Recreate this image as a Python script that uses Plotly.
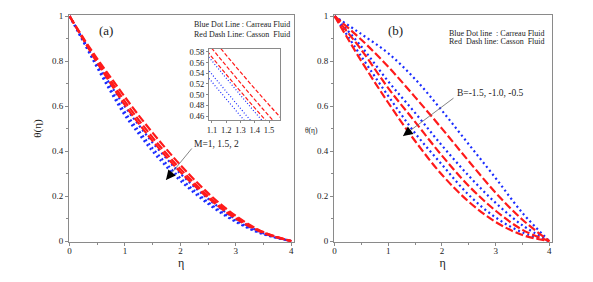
import plotly.graph_objects as go

W, H = 593, 282
OFF = 8  # page body margin
FW, FH = W - OFF, H - OFF

# ---------------- data: panel (a) ----------------
eta_a = [0, 0.25, 0.5, 0.75, 1.0, 1.25, 1.5, 1.75, 2.0, 2.5, 3.0, 3.5, 4.0]
a_blue1 = [1, 0.885, 0.770, 0.660, 0.558, 0.476, 0.398, 0.330, 0.268, 0.165, 0.085, 0.030, 0]
a_blue2 = [1, 0.888, 0.776, 0.670, 0.572, 0.490, 0.412, 0.343, 0.280, 0.173, 0.090, 0.032, 0]
a_blue3 = [1, 0.893, 0.787, 0.690, 0.597, 0.515, 0.437, 0.367, 0.300, 0.188, 0.098, 0.035, 0]
a_red1 = [1, 0.895, 0.792, 0.697, 0.604, 0.522, 0.445, 0.374, 0.307, 0.192, 0.100, 0.036, 0]
a_red2 = [1, 0.898, 0.800, 0.710, 0.620, 0.538, 0.460, 0.388, 0.320, 0.200, 0.105, 0.038, 0]
a_red3 = [1, 0.902, 0.810, 0.725, 0.640, 0.558, 0.481, 0.408, 0.338, 0.213, 0.112, 0.040, 0]

# ---------------- data: panel (b) ----------------
eta_b = [0, 0.5, 1.0, 1.5, 2.0, 2.5, 3.0, 3.5, 4.0]
b_blue3 = [1, 0.920, 0.835, 0.720, 0.580, 0.430, 0.280, 0.125, 0]
b_red3 = [1, 0.895, 0.775, 0.640, 0.500, 0.355, 0.215, 0.095, 0]
b_blue2 = [1, 0.865, 0.710, 0.570, 0.425, 0.290, 0.170, 0.070, 0]
b_red2 = [1, 0.850, 0.680, 0.530, 0.380, 0.245, 0.135, 0.050, 0]
b_blue1 = [1, 0.820, 0.645, 0.480, 0.340, 0.205, 0.105, 0.038, 0]
b_red1 = [1, 0.800, 0.615, 0.445, 0.295, 0.175, 0.085, 0.027, 0]

x_ticks = [0, 1, 2, 3, 4]
y_ticks = [0, 0.2, 0.4, 0.6, 0.8, 1]
inset_x_ticks = [1.1, 1.2, 1.3, 1.4, 1.5]
inset_y_ticks = [0.46, 0.48, 0.50, 0.52, 0.54, 0.56, 0.58]

BLUE = "#1a2cff"
RED = "#ff1a1a"
SERIF = "Liberation Serif"
AX = "#8a8a8a"


def px(x):
    return (x - OFF) / FW


def py(y):
    return 1 - (y - OFF) / FH


fig = go.Figure()


def add(x, y, color, dash, xa, ya, width=2.2):
    fig.add_trace(go.Scatter(
        x=x, y=y, mode="lines", xaxis=xa, yaxis=ya,
        line=dict(color=color, dash=dash, width=width, shape="spline", smoothing=1.0),
        showlegend=False, hoverinfo="skip"))


DOT = "2px,3px"
DASH = "8px,3px"

for ys, c, d in [(a_blue1, BLUE, DOT), (a_blue2, BLUE, DOT), (a_blue3, BLUE, DOT),
                 (a_red1, RED, DASH), (a_red2, RED, DASH), (a_red3, RED, DASH)]:
    add(eta_a, ys, c, d, "x", "y")

for ys, c, d in [(b_blue1, BLUE, DOT), (b_blue2, BLUE, DOT), (b_blue3, BLUE, DOT),
                 (b_red1, RED, DASH), (b_red2, RED, DASH), (b_red3, RED, DASH)]:
    add(eta_b, ys, c, d, "x2", "y2")

for ys, c, d in [(a_blue1, BLUE, "1px,2px"), (a_blue2, BLUE, "1px,2px"), (a_blue3, BLUE, "1px,2px"),
                 (a_red1, RED, "4px,2px"), (a_red2, RED, "4px,2px"), (a_red3, RED, "4px,2px")]:
    add(eta_a, ys, c, d, "x3", "y3", width=1.2)

tickfont = dict(family=SERIF, size=9, color="#222")
minor_y = dict(dtick=0.1, ticklen=2, ticks="outside", tickcolor=AX)
minor_x = dict(dtick=0.5, ticklen=2, ticks="outside", tickcolor=AX)

common_x = dict(range=[-0.01, 4.04], tickvals=x_ticks, ticks="outside", ticklen=3,
                tickcolor=AX, showline=True, linecolor=AX, linewidth=1, mirror=True,
                showgrid=False, zeroline=False, tickfont=tickfont, minor=minor_x,
                automargin=False, ticklabelstandoff=-3)
common_y = dict(range=[-0.004, 1.005], tickvals=y_ticks, ticktext=["0", "0.2", "0.4", "0.6", "0.8", "1"],
                ticks="outside", ticklen=3, tickcolor=AX, showline=True, linecolor=AX,
                linewidth=1, mirror=True, showgrid=False, zeroline=False,
                tickfont=tickfont, minor=minor_y, automargin=False)
inset_common = dict(ticks="outside", ticklen=2, tickcolor=AX, showline=True, linecolor=AX,
                    mirror=True, showgrid=False, zeroline=False, automargin=False,
                    tickfont=dict(family=SERIF, size=8.5, color="#222"))

fig.update_layout(
    width=FW, height=FH,
    margin=dict(l=0, r=0, t=0, b=0, pad=0, autoexpand=False),
    paper_bgcolor="white", plot_bgcolor="white",
    showlegend=False,
    xaxis=dict(domain=[px(69), px(293.5)], anchor="y",
               title=dict(text="η", font=dict(family=SERIF, size=12, color="#222"), standoff=3),
               **common_x),
    yaxis=dict(domain=[py(242), py(15)], anchor="x",
               title=dict(text="θ(η)", font=dict(family=SERIF, size=11, color="#222"), standoff=8),
               **common_y),
    xaxis2=dict(domain=[px(334), px(551.5)], anchor="y2",
                title=dict(text="η", font=dict(family=SERIF, size=12, color="#222"), standoff=3),
                **common_x),
    yaxis2=dict(domain=[py(242), py(15)], anchor="x2", **common_y),
    xaxis3=dict(domain=[px(209), px(280)], anchor="y3", range=[1.079, 1.577],
                tickvals=inset_x_ticks, ticktext=["1.1", "1.2", "1.3", "1.4", "1.5"],
                **inset_common),
    yaxis3=dict(domain=[py(120), py(49)], anchor="x3", range=[0.4525, 0.5856],
                tickvals=inset_y_ticks, ticktext=["0.46", "0.48", "0.50", "0.52", "0.54", "0.56", "0.58"],
                **inset_common),
)

ann = []


def text(x, y, s, size, anchor="left"):
    ann.append(dict(x=px(x), y=py(y), xref="paper", yref="paper", text=s, showarrow=False,
                    xanchor=anchor, yanchor="middle",
                    font=dict(family=SERIF, size=size, color="#222")))


text(97, 30, "(a)", 13)
text(192, 25, "Blue Dot Line : Carreau Fluid", 8)
text(192, 34, "Red Dash Line: Casson  Fluid", 8)
text(192, 144, "M=1, 1.5, 2", 9.5)

text(386, 30, "(b)", 13)
text(447, 33, "Blue Dot line  : Carreau Fluid", 8)
text(447, 42, "Red  Dash line: Casson  Fluid", 8)
text(455, 93, "B=-1.5, -1.0, -0.5", 9.5)

# right panel y label (small, horizontal)
text(311, 131, "θ(η)", 7.5, anchor="center")


def arrow(x0, y0, x1, y1):
    # gray shaft
    ann.append(dict(x=px(x1), y=py(y1), ax=x0 - x1, ay=y0 - y1, xref="paper", yref="paper",
                    axref="pixel", ayref="pixel", showarrow=True, arrowhead=0,
                    arrowwidth=0.8, arrowcolor="#666", text=""))
    # black head
    dx, dy = x0 - x1, y0 - y1
    L = (dx * dx + dy * dy) ** 0.5
    ann.append(dict(x=px(x1), y=py(y1), ax=dx / L * 7, ay=dy / L * 7, xref="paper", yref="paper",
                    axref="pixel", ayref="pixel", showarrow=True, arrowhead=2,
                    arrowsize=1.2, arrowwidth=1.6, arrowcolor="#000", text=""))


arrow(193, 147, 166, 180)
arrow(455, 97, 403, 136)

fig.update_layout(annotations=ann)

fig.write_html("out.html")
